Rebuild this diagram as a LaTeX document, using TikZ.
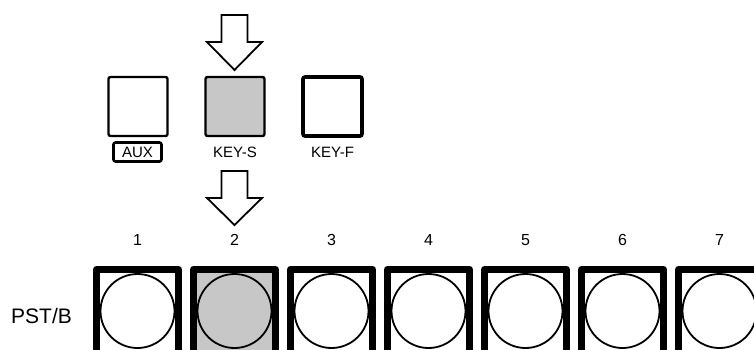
\documentclass[tikz,border=0pt]{standalone}
\usepackage{fontspec}
\setmainfont{Liberation Sans}
\usetikzlibrary{positioning}

\tikzset{
    topkey/.style={draw, line width=2.4pt, rounded corners=2pt, minimum size=59pt, inner sep=0pt},
    keylabel/.style={font=\fontsize{15}{15}\selectfont, inner sep=1pt},
    numlabel/.style={font=\fontsize{16}{16}\selectfont, inner sep=0pt},
    pad/.style={draw, circle, line width=1.8pt, minimum size=74pt, inner sep=0pt},
    blockarrow/.style={draw, line width=1.8pt, line join=miter, fill=white},
}

\begin{document}
\begin{tikzpicture}[x=1pt,y=-1pt]

    \useasboundingbox (0,0) rectangle (754,349);
    \clip (0,0) rectangle (754,349);

    % selector keys
    \node [topkey] (aux) at (138,106.5) {};
    \node [topkey, fill=black!22] (keys) at (235,106.5) {};
    \node [topkey, line width=3.6pt] (keyf) at (332.5,106.5) {};

    \node [keylabel, draw, line width=2.6pt, rounded corners=2pt,
           minimum width=48pt, minimum height=19pt] (auxlbl) at (137.5,152) {AUX};
    \node [keylabel] (keyslbl) at (235,152) {KEY-S};
    \node [keylabel] (keyflbl) at (332.5,152) {KEY-F};

    % arrows
    \draw [blockarrow] (221.5,15) -- (247.5,15) -- (247.5,42) -- (262,42)
        -- (234.5,70) -- (207,42) -- (221.5,42) -- cycle;
    \draw [blockarrow] (221.5,171) -- (247.5,171) -- (247.5,198) -- (262,198)
        -- (234.5,225) -- (207,198) -- (221.5,198) -- cycle;

    % bus row
    \node [font=\fontsize{21}{21}\selectfont, anchor=west, inner sep=0pt] (bus) at (11,316) {PST/B};

    \foreach \i in {1,...,7} {
        \pgfmathsetmacro\left{93+(\i-1)*97}
        \ifnum\i=2
            \fill [black!22] (\left+3.5,269) rectangle (\left+85.5,360);
        \fi
        \draw [line width=7pt, line join=round] (\left+3.5,380) -- (\left+3.5,269.5)
            -- (\left+85.5,269.5) -- (\left+85.5,380);
        \node [pad] (b\i) at (\left+44.5,311) {};
        \node [numlabel] (n\i) at (\left+44.5,240) {\i};
    }

\end{tikzpicture}
\end{document}
